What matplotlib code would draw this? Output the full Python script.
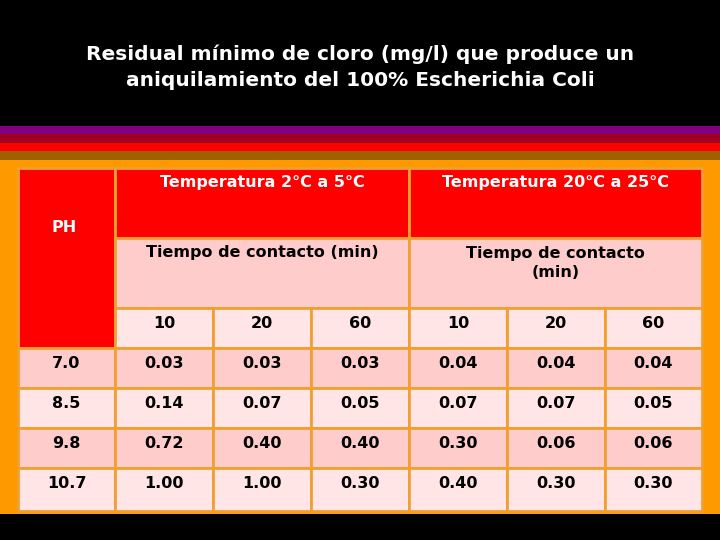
import matplotlib
matplotlib.use("Agg")
import matplotlib.pyplot as plt
from matplotlib.patches import Rectangle

title = "Residual mínimo de cloro (mg/l) que produce un\naniquilamiento del 100% Escherichia Coli"
ph_values = ["7.0", "8.5", "9.8", "10.7"]
times = ["10", "20", "60", "10", "20", "60"]
temp_headers = ["Temperatura 2°C a 5°C", "Temperatura 20°C a 25°C"]
time_headers = ["Tiempo de contacto (min)", "Tiempo de contacto\n(min)"]
values = [
    ["0.03", "0.03", "0.03", "0.04", "0.04", "0.04"],
    ["0.14", "0.07", "0.05", "0.07", "0.07", "0.05"],
    ["0.72", "0.40", "0.40", "0.30", "0.06", "0.06"],
    ["1.00", "1.00", "0.30", "0.40", "0.30", "0.30"],
]

fig = plt.figure(figsize=(7.2, 5.4), dpi=100, facecolor="black")
ax = fig.add_axes([0, 0, 1, 1])
ax.set_xlim(0, 720); ax.set_ylim(540, 0); ax.axis("off")
ax.set_facecolor("black")

for y0, y1, c in [(126, 134, "#800080"), (134, 143, "#A00020"), (143, 151, "#FF0000"),
                  (151, 160, "#A06000"), (160, 514, "#FF9900")]:
    ax.add_patch(Rectangle((0, y0), 720, y1 - y0, color=c, lw=0))

ax.text(360, 67, title, color="white", ha="center", va="center", fontsize=14.5,
        fontweight="bold", family="DejaVu Sans", linespacing=1.45)

RED, PINK, LIGHT, EDGE = "#FF0000", "#FFCCCC", "#FFE5E5", "#F0A030"
xs = [18, 115, 213, 311, 409, 507, 605, 702]
fs = 11.5
fk = dict(fontweight="bold", family="DejaVu Sans", fontsize=fs, ha="center", va="center")

def cell(x0, y0, x1, y1, c):
    ax.add_patch(Rectangle((x0, y0), x1 - x0, y1 - y0, facecolor=c, edgecolor=EDGE, lw=2))

cell(xs[0], 168, xs[1], 348, RED)
ax.text((xs[0] + xs[1]) / 2 - 2, 227, "PH", color="white", **fk)
for g in range(2):
    x0, x1 = xs[1 + 3 * g], xs[4 + 3 * g]
    cell(x0, 168, x1, 238, RED)
    ax.text((x0 + x1) / 2, 182, temp_headers[g], color="white", **fk)
    cell(x0, 238, x1, 308, PINK)
    ax.text((x0 + x1) / 2, 253 if g == 0 else 263, time_headers[g], color="black",
            linespacing=1.3, **fk)
for j, t in enumerate(times):
    cell(xs[1 + j], 308, xs[2 + j], 348, LIGHT)
    ax.text((xs[1 + j] + xs[2 + j]) / 2, 323, t, color="black", **fk)

rows = [(348, 388), (388, 428), (428, 468), (468, 511)]
for i, (y0, y1) in enumerate(rows):
    c = PINK if i % 2 == 0 else LIGHT
    cell(xs[0], y0, xs[1], y1, c)
    ax.text((xs[0] + xs[1]) / 2, y0 + 16, ph_values[i], color="black", **fk)
    for j, v in enumerate(values[i]):
        cell(xs[1 + j], y0, xs[2 + j], y1, c)
        ax.text((xs[1 + j] + xs[2 + j]) / 2, y0 + 16, v, color="black", **fk)

fig.savefig("out.png", dpi=100, facecolor="black")
